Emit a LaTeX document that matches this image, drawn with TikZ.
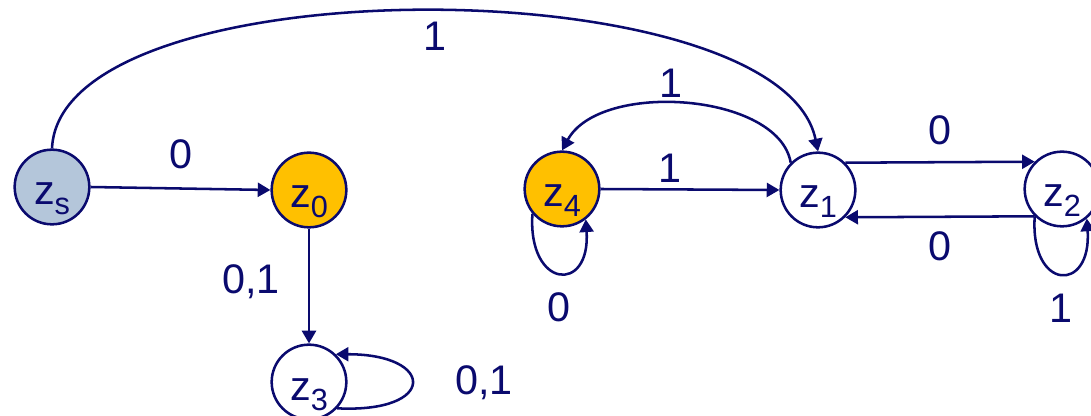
\documentclass[tikz,border=0pt]{standalone}
\usepackage{fontspec}
\setmainfont{Liberation Sans}
\usetikzlibrary{arrows.meta}
\definecolor{ink}{HTML}{0A0A6E}
\definecolor{start}{HTML}{B4C6DA}
\definecolor{final}{HTML}{FFC000}
\newcommand{\zsub}[1]{z\raisebox{-7.5pt}{\fontsize{23}{23}\selectfont #1}}
\tikzset{
  every node/.style={font=\fontsize{31}{36}\selectfont, text=ink},
  state/.style={circle, draw=ink, line width=1.9pt, fill=white, minimum size=56pt,
                inner sep=0pt, text height=27pt, text depth=0pt},
  startstate/.style={state, fill=start},
  finalstate/.style={state, fill=final},
  arc/.style={draw=ink, line width=1.9pt, -{Triangle[length=9.5pt, width=10.5pt]}},
  lbl/.style={inner sep=0pt},
}

\begin{document}
\begin{tikzpicture}[x=0.75pt, y=-0.75pt]
  \useasboundingbox (0,0) rectangle (1091,416);

  \node[startstate] (zs) at (52,187)   {\zsub{s}};
  \node[finalstate] (z0) at (309,190)  {\zsub{0}};
  \node[state]      (z3) at (309,382)  {\zsub{3}};
  \node[finalstate] (z4) at (562,189)  {\zsub{4}};
  \node[state]      (z1) at (818,190)  {\zsub{1}};
  \node[state]      (z2) at (1062,189) {\zsub{2}};

  \draw[arc] (zs.east) -- node[lbl, above=13.5pt] {0} (z0.west);
  \draw[arc] (zs.north) .. controls +(8,-185) and +(-38,-185) .. node[lbl, below=7.5pt, pos=0.51] {1} (z1.north);
  \draw[arc] (z0.south) -- node[lbl, left=21pt, pos=0.46] {0,1} (z3.north);
  \draw[arc] (z3.-43) .. controls +(100,5) and +(100,0) .. node[lbl, right=32pt] {0,1} (z3.46);

  \draw[arc] (z4.east) -- node[lbl, above=4.5pt, pos=0.39] {1} (z1.west);
  \draw[arc] (z1.135) .. controls +(-12,-70) and +(38,-70) .. node[lbl, above=4pt, pos=0.55] {1} (z4.north);
  \draw[arc] (z4.220) .. controls +(-5,75) and +(5,75) .. node[lbl, below=14pt] {0} (z4.-52);

  \draw[arc] (z1.45) -- node[lbl, above=12pt] {0} (z2.135);
  \draw[arc] (z2.225) -- node[lbl, below=10pt] {0} (z1.-45);
  \draw[arc] (z2.225) .. controls +(-5,75) and +(5,75) .. node[lbl, below=14pt] {1} (z2.-50);
\end{tikzpicture}
\end{document}
